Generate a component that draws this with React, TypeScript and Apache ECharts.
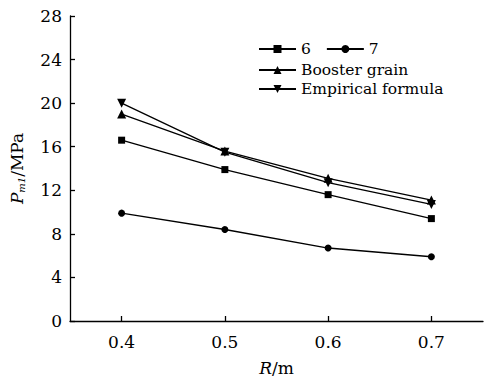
import React, { useEffect, useRef } from "react";
import * as echarts from "echarts";

const xValues = [0.4, 0.5, 0.6, 0.7];
const series6 = [16.6, 13.9, 11.6, 9.4];
const series7 = [9.9, 8.4, 6.7, 5.9];
const boosterGrain = [19.0, 15.6, 13.1, 11.1];
const empiricalFormula = [20.0, 15.5, 12.7, 10.7];
const xTicks = [0.4, 0.5, 0.6, 0.7];

const FONT = "DejaVu Serif";

export default function App() {
  const ref = useRef<HTMLDivElement>(null);
  useEffect(() => {
    if (!ref.current) return;
    const chart = echarts.init(ref.current, undefined, { renderer: "svg" });
    const mk = (name: string, data: number[], symbol: string, size: number, rotate = 0) => ({
      name,
      type: "line",
      data: xValues.map((x, i) => [x, data[i]]),
      symbol,
      symbolSize: size,
      symbolRotate: rotate,
      showAllSymbol: true,
      lineStyle: { color: "#000", width: 1.3 },
      itemStyle: { color: "#000" },
    });
    const legendText = { fontFamily: FONT, fontSize: 15.5, color: "#000" };
    chart.setOption({
      animation: false,
      backgroundColor: "#fff",
      textStyle: { fontFamily: FONT, color: "#000" },
      grid: { left: 69, right: 2, top: 16, bottom: 59 },
      legend: [
        {
          data: ["6", "7"],
          left: 253,
          top: 36,
          orient: "horizontal",
          itemWidth: 37,
          itemHeight: 10,
          itemGap: 15,
          textStyle: legendText,
        },
        {
          data: ["Booster grain", "Empirical formula"],
          left: 253,
          top: 57,
          orient: "vertical",
          itemWidth: 37,
          itemHeight: 10,
          itemGap: 3,
          textStyle: legendText,
        },
      ],
      xAxis: {
        type: "value",
        min: 0.35,
        max: 0.75,
        name: "{i|R}{n|/m}",
        nameLocation: "middle",
        nameGap: 38,
        nameTextStyle: {
          rich: {
            i: { fontFamily: FONT, fontSize: 17, fontStyle: "italic", color: "#000" },
            n: { fontFamily: FONT, fontSize: 17, color: "#000" },
          },
        },
        axisLine: { lineStyle: { color: "#000", width: 1.3 } },
        axisTick: { inside: true, length: 5, customValues: xTicks, lineStyle: { color: "#000", width: 1.3 } },
        axisLabel: {
          customValues: xTicks,
          margin: 12,
          fontSize: 17,
          fontFamily: FONT,
          color: "#000",
          formatter: (v: number) => v.toFixed(1),
        },
        splitLine: { show: false },
      },
      yAxis: {
        type: "value",
        min: 0,
        max: 28,
        interval: 4,
        name: "{i|P}{s|m1}{n|/MPa}",
        nameLocation: "middle",
        nameRotate: 90,
        nameGap: 44,
        nameTextStyle: {
          rich: {
            i: { fontFamily: FONT, fontSize: 17, fontStyle: "italic", color: "#000" },
            s: { fontFamily: FONT, fontSize: 10, fontStyle: "italic", color: "#000", padding: [9, 0, 0, 0] },
            n: { fontFamily: FONT, fontSize: 17, color: "#000" },
          },
        },
        axisLine: { show: true, lineStyle: { color: "#000", width: 1.3 } },
        axisTick: { show: true, inside: true, length: 5, lineStyle: { color: "#000", width: 1.3 } },
        axisLabel: { margin: 8, fontSize: 17, fontFamily: FONT, color: "#000" },
        splitLine: { show: false },
      },
      series: [
        mk("6", series6, "rect", 7),
        mk("7", series7, "circle", 7),
        mk("Booster grain", boosterGrain, "triangle", 9),
        mk("Empirical formula", empiricalFormula, "triangle", 9, 180),
      ],
    });
    return () => chart.dispose();
  }, []);
  return <div ref={ref} style={{ width: 485, height: 381, position: "absolute", left: 0, top: 0 }} />;
}
